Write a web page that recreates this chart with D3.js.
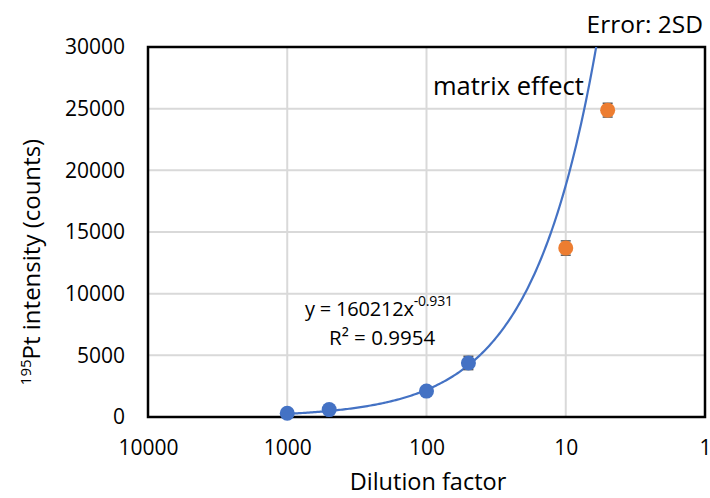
<!DOCTYPE html>
<html><head><meta charset="utf-8">
<script src="https://cdn.jsdelivr.net/npm/d3@7"></script>
<style>body{margin:0;background:#fff}svg{display:block}text{font-family:"Open Sans",sans-serif;fill:#000}</style>
</head><body><svg id="c" width="710" height="498"></svg>
<script>
const blueX = [1000, 500, 100, 50];
const blueY = [300, 600, 2100, 4380];
const blueErr = [40, 60, 120, 540];
const orangeX = [10, 5];
const orangeY = [13700, 24880];
const orangeErr = [580, 560];
const xTicks = [10000, 1000, 100, 10, 1];
const yTicks = [0, 5000, 10000, 15000, 20000, 25000, 30000];
const fitA = 160212, fitB = -0.931;
const fitRange = [1000, 4];

const svg = d3.select("#c");
const L = 148, R = 705, T = 47, B = 417;
const x = d3.scaleLog().domain([10000, 1]).range([L, R]);
const y = d3.scaleLinear().domain([0, 30000]).range([B, T]);

svg.append("defs").append("clipPath").attr("id","clip")
  .append("rect").attr("x",L).attr("y",T).attr("width",R-L).attr("height",B-T);

// gridlines
svg.append("g").selectAll("line").data(yTicks.slice(1,-1)).join("line")
  .attr("x1",L).attr("x2",R).attr("y1",d=>y(d)).attr("y2",d=>y(d))
  .attr("stroke","#d9d9d9").attr("stroke-width",2);
svg.append("g").selectAll("line").data(xTicks.slice(1,-1)).join("line")
  .attr("x1",d=>x(d)).attr("x2",d=>x(d)).attr("y1",T).attr("y2",B)
  .attr("stroke","#d9d9d9").attr("stroke-width",2);

// axes labels
const xa = d3.axisBottom(x).tickValues(xTicks).tickFormat(d3.format("d")).tickSize(0).tickPadding(23);
const gx = svg.append("g").attr("transform",`translate(0,${B})`).call(xa);
gx.select(".domain").remove();
gx.selectAll("text").attr("font-size",21).attr("font-family","Open Sans");
gx.selectAll(".tick").filter(d=>d===1).select("text").attr("text-anchor","end").attr("dx",6);
const ya = d3.axisLeft(y).tickValues(yTicks).tickFormat(d3.format("d")).tickSize(0).tickPadding(23);
const gy = svg.append("g").attr("transform",`translate(${L},0)`).call(ya);
gy.select(".domain").remove();
gy.selectAll("text").attr("font-size",21).attr("font-family","Open Sans");

// frame
svg.append("rect").attr("x",L).attr("y",T).attr("width",R-L).attr("height",B-T)
  .attr("fill","none").attr("stroke","#000").attr("stroke-width",2.5);

// trendline
const xs = d3.range(0, 201).map(i => Math.pow(10, Math.log10(fitRange[0]) + (Math.log10(fitRange[1]) - Math.log10(fitRange[0])) * i / 200));
svg.append("path").attr("clip-path","url(#clip)")
  .attr("d", d3.line().x(d=>x(d)).y(d=>y(fitA*Math.pow(d,fitB)))(xs))
  .attr("fill","none").attr("stroke","#4472C4").attr("stroke-width",2.2);

function series(X, Y, E, color){
  const g = svg.append("g");
  const data = X.map((v,i)=>({x:v,y:Y[i],e:E[i]}));
  const eb = g.selectAll("g.eb").data(data).join("g");
  eb.append("line").attr("x1",d=>x(d.x)).attr("x2",d=>x(d.x)).attr("y1",d=>y(d.y-d.e)).attr("y2",d=>y(d.y+d.e)).attr("stroke","#595959").attr("stroke-width",1.5);
  [-1,1].forEach(s=>eb.append("line").attr("x1",d=>x(d.x)-5).attr("x2",d=>x(d.x)+5).attr("y1",d=>y(d.y+s*d.e)).attr("y2",d=>y(d.y+s*d.e)).attr("stroke","#595959").attr("stroke-width",1.5));
  g.selectAll("circle").data(data).join("circle")
    .attr("cx",d=>x(d.x)).attr("cy",d=>y(d.y)).attr("r",7.5).attr("fill",color);
}
series(blueX, blueY, blueErr, "#4472C4");
series(orangeX, orangeY, orangeErr, "#ED7D31");

// texts
svg.append("text").attr("x",703).attr("y",33).attr("text-anchor","end").attr("font-size",24.5).text("Error: 2SD");
svg.append("text").attr("x",433).attr("y",95).attr("font-size",25.5).text("matrix effect");
const eq = svg.append("text").attr("x",305).attr("y",316).attr("font-size",20).attr("letter-spacing",-0.2);
eq.append("tspan").text("y = 160212x");
eq.append("tspan").attr("dy",-10).attr("font-size",14).text("-0.931");
svg.append("text").attr("x",329).attr("y",345).attr("font-size",20.5).text("R² = 0.9954");
svg.append("text").attr("x",428).attr("y",490).attr("text-anchor","middle").attr("font-size",23.5).text("Dilution factor");
const yt = svg.append("text").attr("transform","translate(40,262) rotate(-90)").attr("text-anchor","middle").attr("font-size",24);
yt.append("tspan").attr("font-size",15).attr("dy",-9).text("195");
yt.append("tspan").attr("dy",9).text("Pt intensity (counts)");
</script></body></html>
